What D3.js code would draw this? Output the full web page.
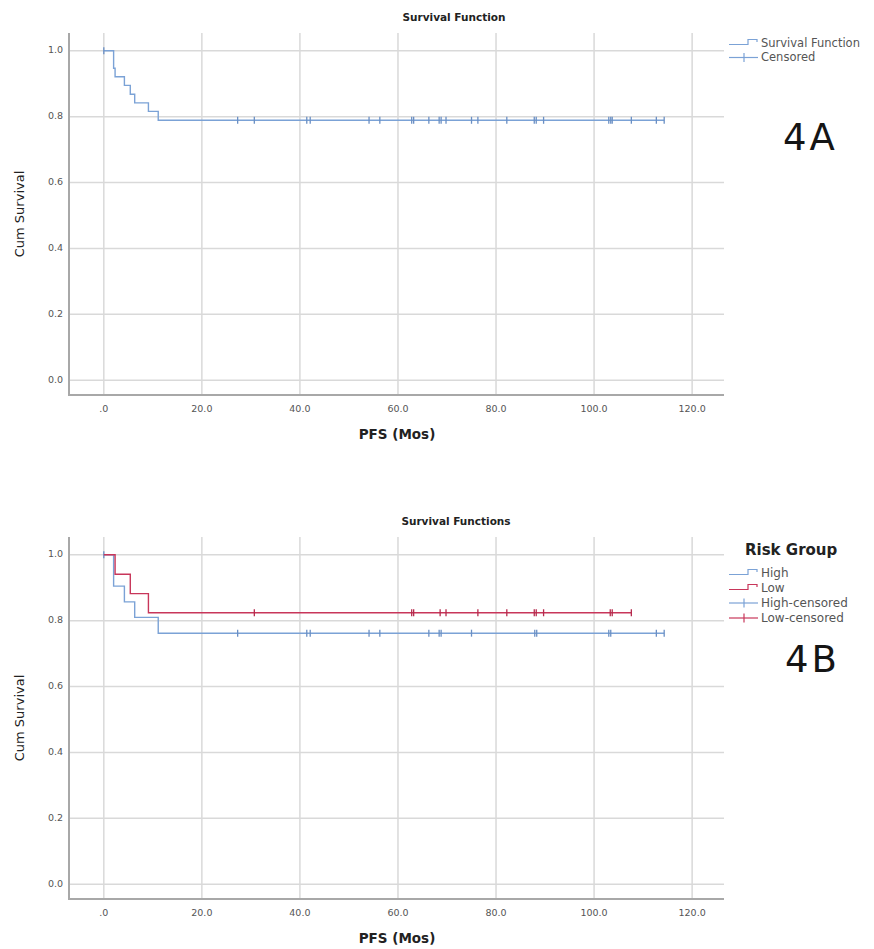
<!DOCTYPE html>
<html>
<head>
<meta charset="utf-8">
<script src="https://cdn.jsdelivr.net/npm/d3@7/dist/d3.min.js"></script>
<style>
  body { margin: 0; background: #fff; }
  svg { display: block; font-family: "DejaVu Sans", sans-serif; }
</style>
</head>
<body>
<div id="chart"></div>
<script>
// axis ticks
const timeTicks = [0, 20, 40, 60, 80, 100, 120];
const timeTickLabels = [".0", "20.0", "40.0", "60.0", "80.0", "100.0", "120.0"];
const survTicks = [0, 0.2, 0.4, 0.6, 0.8, 1.0];
const survTickLabels = ["0.0", "0.2", "0.4", "0.6", "0.8", "1.0"];

// 4A - all patients
const allStepTimes = [0, 2.0, 2.3, 4.2, 5.4, 6.3, 9.1, 11.1];
const allStepSurv = [1, 0.947, 0.921, 0.895, 0.868, 0.842, 0.816, 0.789];
const allCensored = [0, 27.3, 30.7, 41.4, 42.1, 54.1, 56.3, 62.8, 63.2, 66.3, 68.4, 68.8, 69.8,
  75.0, 76.3, 82.2, 87.8, 88.2, 89.7, 103.0, 103.4, 103.7, 107.6, 112.7, 114.3];

// 4B - by risk group
const highStepTimes = [0, 2.0, 4.2, 6.3, 11.1];
const highStepSurv = [1, 0.905, 0.857, 0.810, 0.762];
const highCensored = [0, 27.3, 41.4, 42.1, 54.1, 56.3, 66.3, 68.4, 68.8, 75.0, 87.9, 88.3,
  103.0, 103.4, 112.7, 114.3];
const lowStepTimes = [0, 2.3, 5.4, 9.1];
const lowStepSurv = [1, 0.941, 0.882, 0.824];
const lowCensored = [30.7, 62.8, 63.2, 68.6, 69.8, 76.3, 82.2, 87.8, 88.2, 89.7, 103.3, 103.7, 107.6];

const blue = "#7ba2d6";
const blueDark = "#6a8fc4";
const red = "#c8365a";
const redDark = "#b52a4c";

const svg = d3.select("#chart").append("svg")
    .attr("width", 874)
    .attr("height", 949);

function drawPanel(cfg) {
    const x = d3.scaleLinear().domain([-7.1, 126.5]).range([69, 724]);
    const y = d3.scaleLinear().domain([-0.045, 1.054]).range([cfg.bottom, cfg.top]);
    const g = svg.append("g");

    // grid
    g.selectAll(".vgrid").data(timeTicks).enter().append("line")
        .attr("x1", d => x(d)).attr("x2", d => x(d))
        .attr("y1", cfg.top).attr("y2", cfg.bottom)
        .attr("stroke", "#d9d9d9").attr("stroke-width", 1.5);
    g.selectAll(".hgrid").data(survTicks).enter().append("line")
        .attr("x1", x.range()[0]).attr("x2", x.range()[1])
        .attr("y1", d => y(d)).attr("y2", d => y(d))
        .attr("stroke", "#d9d9d9").attr("stroke-width", 1.5);

    // axis lines
    g.append("line")
        .attr("x1", 69).attr("x2", 69).attr("y1", cfg.top).attr("y2", cfg.bottom)
        .attr("stroke", "#a8a8a8").attr("stroke-width", 2);
    g.append("line")
        .attr("x1", 68).attr("x2", 724).attr("y1", cfg.bottom).attr("y2", cfg.bottom)
        .attr("stroke", "#a8a8a8").attr("stroke-width", 2);

    // tick labels
    g.selectAll(".xlab").data(timeTicks).enter().append("text")
        .attr("x", d => x(d)).attr("y", cfg.bottom + 14)
        .attr("text-anchor", "middle").attr("dominant-baseline", "middle")
        .attr("font-size", 9.5).attr("fill", "#555")
        .text((d, i) => timeTickLabels[i]);
    g.selectAll(".ylab").data(survTicks).enter().append("text")
        .attr("x", 63).attr("y", d => y(d))
        .attr("text-anchor", "end").attr("dominant-baseline", "middle")
        .attr("font-size", 9.5).attr("fill", "#555")
        .text((d, i) => survTickLabels[i]);

    // titles
    g.append("text")
        .attr("x", cfg.titleX).attr("y", cfg.top - 15)
        .attr("text-anchor", "middle").attr("dominant-baseline", "middle")
        .attr("font-size", 10.5).attr("font-weight", "bold").attr("fill", "#222")
        .text(cfg.title);
    g.append("text")
        .attr("x", 397).attr("y", cfg.bottom + 40)
        .attr("text-anchor", "middle").attr("dominant-baseline", "middle")
        .attr("font-size", 13.5).attr("font-weight", "bold").attr("fill", "#222")
        .text("PFS (Mos)");
    g.append("text")
        .attr("transform", `translate(20, ${(cfg.top + cfg.bottom) / 2}) rotate(-90)`)
        .attr("text-anchor", "middle").attr("dominant-baseline", "middle")
        .attr("font-size", 13).attr("fill", "#222")
        .text("Cum Survival");

    // survival curves
    const line = d3.line()
        .x(d => x(d.t))
        .y(d => y(d.s))
        .curve(d3.curveStepAfter);

    cfg.series.forEach(sr => {
        const pts = sr.times.map((t, i) => ({t: t, s: sr.surv[i]}));
        const lastT = d3.max(sr.censored.concat(sr.times));
        pts.push({t: lastT, s: sr.surv[sr.surv.length - 1]});
        g.append("path")
            .attr("d", line(pts))
            .attr("fill", "none")
            .attr("stroke", sr.color)
            .attr("stroke-width", 1.4);

        g.selectAll(null).data(sr.censored).enter().append("line")
            .attr("x1", d => x(d)).attr("x2", d => x(d))
            .attr("y1", d => y(sr.surv[d3.bisectRight(sr.times, d) - 1]) - 3.5)
            .attr("y2", d => y(sr.surv[d3.bisectRight(sr.times, d) - 1]) + 3.5)
            .attr("stroke", sr.markColor)
            .attr("stroke-width", 1.3);
    });

    // legend
    const lg = g.append("g");
    let ly = cfg.legendTop;
    if (cfg.legendTitle) {
        lg.append("text")
            .attr("x", 745).attr("y", ly)
            .attr("dominant-baseline", "middle")
            .attr("font-size", 15).attr("font-weight", "bold").attr("fill", "#222")
            .text(cfg.legendTitle);
        ly += 23;
    }
    cfg.legend.forEach(item => {
        if (item.type === "step") {
            lg.append("path")
                .attr("d", `M729,${ly + 1.5}H748V${ly - 3.5}H757V${ly - 1}`)
                .attr("fill", "none").attr("stroke", item.color).attr("stroke-width", 1.2);
        } else {
            lg.append("line")
                .attr("x1", 729).attr("x2", 758).attr("y1", ly).attr("y2", ly)
                .attr("stroke", item.color).attr("stroke-width", 1.2);
            lg.append("line")
                .attr("x1", 744).attr("x2", 744).attr("y1", ly - 4.5).attr("y2", ly + 4.5)
                .attr("stroke", item.color).attr("stroke-width", 1.2);
        }
        lg.append("text")
            .attr("x", 761).attr("y", ly)
            .attr("dominant-baseline", "middle")
            .attr("font-size", cfg.legendFont).attr("fill", "#555")
            .text(item.label);
        ly += cfg.legendStep;
    });

    g.append("text")
        .attr("x", cfg.tagX).attr("y", cfg.tagY)
        .attr("dominant-baseline", "middle")
        .attr("font-size", 37).attr("letter-spacing", 3).attr("fill", "#151515")
        .text(cfg.tag);
}

drawPanel({
    top: 33, bottom: 395,
    title: "Survival Function", titleX: 454,
    series: [
        {times: allStepTimes, surv: allStepSurv, censored: allCensored, color: blue, markColor: blueDark}
    ],
    legendTop: 43, legendStep: 14.5, legendFont: 11.5,
    legend: [
        {type: "step", label: "Survival Function", color: blue},
        {type: "cens", label: "Censored", color: blue}
    ],
    tag: "4A", tagX: 783, tagY: 139
});

drawPanel({
    top: 537, bottom: 899,
    title: "Survival Functions", titleX: 456,
    series: [
        {times: highStepTimes, surv: highStepSurv, censored: highCensored, color: blue, markColor: blueDark},
        {times: lowStepTimes, surv: lowStepSurv, censored: lowCensored, color: red, markColor: redDark}
    ],
    legendTitle: "Risk Group",
    legendTop: 550, legendStep: 15, legendFont: 12,
    legend: [
        {type: "step", label: "High", color: blue},
        {type: "step", label: "Low", color: red},
        {type: "cens", label: "High-censored", color: blue},
        {type: "cens", label: "Low-censored", color: red}
    ],
    tag: "4B", tagX: 785, tagY: 661
});
</script>
</body>
</html>
